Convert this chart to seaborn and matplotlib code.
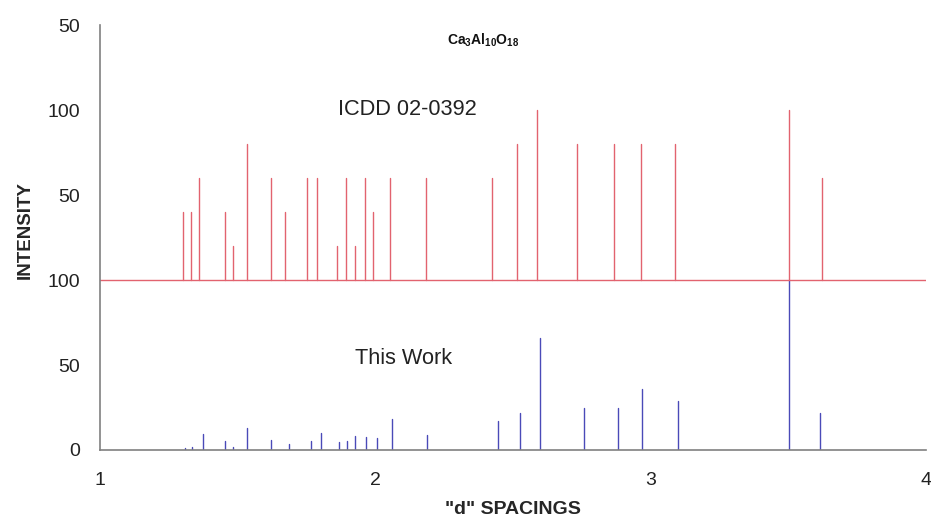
import numpy as np
import pandas as pd
import matplotlib
matplotlib.use("Agg")
import matplotlib.pyplot as plt
import seaborn as sns

# ---- data ----
icdd_d = [1.300, 1.331, 1.359, 1.454, 1.484, 1.534, 1.622, 1.672, 1.753, 1.789,
          1.862, 1.894, 1.927, 1.963, 1.993, 2.053, 2.183, 2.423, 2.516, 2.588,
          2.734, 2.866, 2.966, 3.089, 3.504, 3.622]
icdd_i = [40, 40, 60, 40, 20, 80, 60, 40, 60, 60,
          20, 60, 20, 60, 40, 60, 60, 60, 80, 100,
          80, 80, 80, 80, 100, 60]

work_d = [1.309, 1.333, 1.374, 1.454, 1.484, 1.534, 1.622, 1.688, 1.766, 1.803,
          1.869, 1.898, 1.927, 1.966, 2.007, 2.060, 2.189, 2.447, 2.527, 2.597,
          2.758, 2.880, 2.968, 3.098, 3.504, 3.614]
work_i = [1, 2, 9.5, 5, 2, 13, 6, 3.5, 5.5, 10,
          4.5, 5, 8, 7.5, 7, 18, 9, 17, 22, 66,
          25, 25, 36, 29, 100, 22]

icdd_offset = 100
ytick_vals = [0, 50, 100, 150, 200, 250]
ytick_labels = ["0", "50", "100", "50", "100", "50"]
xtick_vals = [1, 2, 3, 4]

RED = "#e2636f"
BLUE = "#4a4ab8"
AXC = "#808080"

sns.set_theme(style="white")
plt.rcParams["font.family"] = ["Liberation Sans", "DejaVu Sans"]
plt.rcParams["mathtext.fontset"] = "custom"
plt.rcParams["mathtext.bf"] = "Liberation Sans:bold"
plt.rcParams["mathtext.rm"] = "Liberation Sans"


def stems(d, inten, base, series):
    rows = []
    for k, (x, y) in enumerate(zip(d, inten)):
        rows.append({"d": x, "y": base, "unit": k, "series": series})
        rows.append({"d": x, "y": base + y, "unit": k, "series": series})
    return pd.DataFrame(rows)


df_icdd = stems(icdd_d, icdd_i, icdd_offset, "ICDD")
df_work = stems(work_d, work_i, 0, "Work")

fig = plt.figure(figsize=(9.31, 5.23), dpi=100)
ax = fig.add_axes([0.1074, 0.1396, 0.8872, 0.8124])

sns.lineplot(data=df_icdd, x="d", y="y", units="unit", estimator=None,
             color=RED, lw=1.0, ax=ax, legend=False)
sns.lineplot(data=df_work, x="d", y="y", units="unit", estimator=None,
             color=BLUE, lw=1.0, ax=ax, legend=False)
ax.axhline(icdd_offset, color=RED, lw=1.0)

ax.set_xlim(1, 4)
ax.set_ylim(0, 250)
ax.set_xticks(xtick_vals)
ax.set_xticklabels([str(v) for v in xtick_vals], fontsize=14)
ax.set_yticks(ytick_vals)
ax.set_yticklabels(ytick_labels, fontsize=14)

for s in ["top", "right"]:
    ax.spines[s].set_visible(False)
for s in ["left", "bottom"]:
    ax.spines[s].set_color(AXC)
    ax.spines[s].set_linewidth(1.2)
ax.tick_params(axis="both", direction="out", width=1, color=AXC,
               labelcolor="#222222")
ax.tick_params(axis="y", length=5.8, pad=8.5)
ax.tick_params(axis="x", length=2.5, pad=13)
ax.grid(False)

ax.set_xlabel('"d" SPACINGS', fontsize=14, fontweight="bold")
ax.set_ylabel("INTENSITY", fontsize=13.5, fontweight="bold")
# label positions in axes-fraction coordinates
ax.xaxis.set_label_coords(0.5, -0.12)
ax.yaxis.set_label_coords(-0.08, 0.518)

ax.text(2.39, 241, r"$\mathbf{Ca_{3}Al_{10}O_{18}}$", ha="center", va="center",
        fontsize=10, color="#111111")
ax.text(2.117, 200.5, "ICDD 02-0392", ha="center", va="center", fontsize=15.7,
        color="#222222")
ax.text(2.104, 54, "This Work", ha="center", va="center", fontsize=15.7,
        color="#222222")

fig.savefig("out.png", dpi=100)
